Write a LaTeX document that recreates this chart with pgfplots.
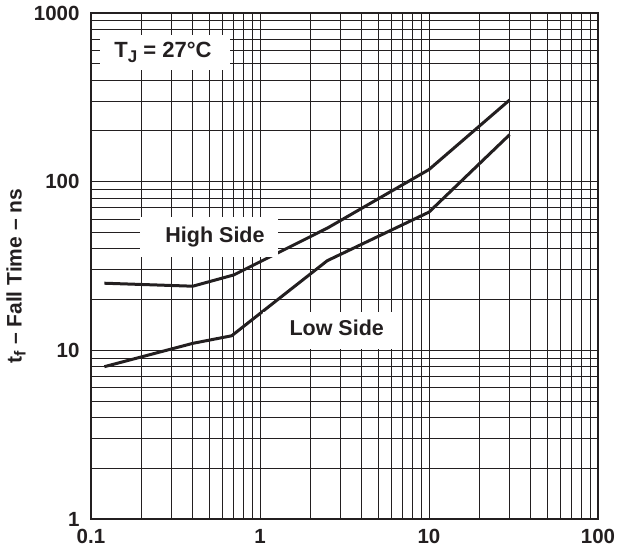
\documentclass[border=0pt]{standalone}
\usepackage{fontspec}
\setmainfont{Liberation Sans}
\usepackage{pgfplots}
\pgfplotsset{compat=1.18}
\definecolor{ink}{HTML}{231F20}
\begin{document}
\begin{tikzpicture}
\path[use as bounding box] (-91pt,-31pt) rectangle (528pt,519pt);
\begin{axis}[
  at={(0pt,0pt)}, anchor=south west,
  width=507pt, height=506pt, scale only axis,
  xmode=log, ymode=log,
  xmin=0.1, xmax=100, ymin=1, ymax=1000,
  xtick={0.1,1,10,100}, xticklabels={0.1,1,10,100},
  ytick={1,10,100,1000}, yticklabels={1,10,100,1000},
  grid=both,
  major grid style={ink, line width=0.9pt},
  minor grid style={ink, line width=0.9pt},
  major tick length=0pt, minor tick length=0pt,
  axis line style={ink, line width=2pt},
  /pgf/number format/assume math mode=true,
  ticklabel style={font=\fontsize{20.5}{24}\selectfont\bfseries, text=ink},
  xticklabel style={yshift=-7pt},
  yticklabel style={xshift=-8pt},
]
\addplot[ink, line width=3pt, line join=round] coordinates {
  (0.12,25) (0.4,24) (0.7,28) (2.5,53) (10,118) (30,305)
};
\addplot[ink, line width=3pt, line join=round] coordinates {
  (0.12,8) (0.4,11) (0.68,12.2) (2.5,34) (10,66) (30,190)
};
\node[fill=white, minimum width=130pt, minimum height=35pt, inner sep=0pt] at (rel axis cs:0.146,0.922) {};
\node[text=ink, font=\fontsize{22}{26}\selectfont\bfseries, inner sep=0pt] at (rel axis cs:0.142,0.922) {T\raisebox{-5pt}{\fontsize{17}{20}\selectfont J} = 27°C};
\node[fill=white, minimum width=138pt, minimum height=40pt, inner sep=0pt] at (rel axis cs:0.2327,0.558) {};
\node[text=ink, font=\fontsize{21.5}{26}\selectfont\bfseries, inner sep=0pt] at (rel axis cs:0.2446,0.558) {High Side};
\node[fill=white, minimum width=139pt, minimum height=37pt, inner sep=0pt] at (rel axis cs:0.4763,0.3735) {};
\node[text=ink, font=\fontsize{21.5}{26}\selectfont\bfseries, inner sep=0pt] at (rel axis cs:0.4846,0.3769) {Low Side};
\end{axis}
\node[text=ink, font=\fontsize{21}{25}\selectfont\bfseries, rotate=90, inner sep=0pt] at (-75pt,243pt) {t\raisebox{-4pt}{\fontsize{16}{19}\selectfont f} – Fall Time – ns};
\end{tikzpicture}
\end{document}
